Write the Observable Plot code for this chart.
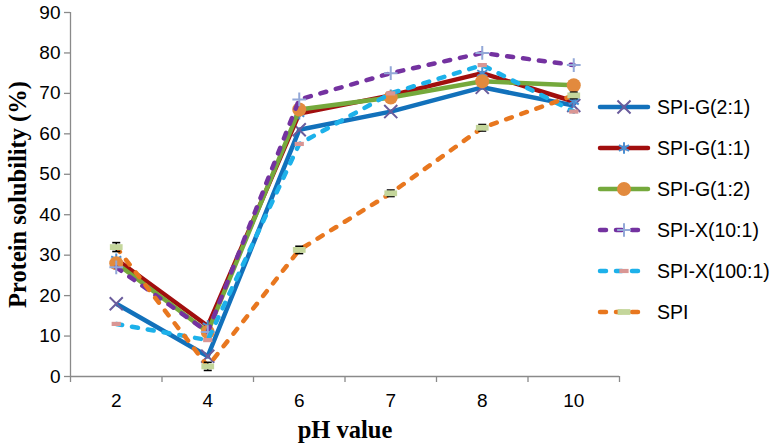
<!DOCTYPE html>
<html><head><meta charset="utf-8">
<script src="https://cdn.jsdelivr.net/npm/d3@7"></script>
<script src="https://cdn.jsdelivr.net/npm/@observablehq/plot@0.6"></script>
<style>
body{margin:0;background:#fff;}
#wrap{position:relative;width:773px;height:448px;overflow:hidden;}
#legend{position:absolute;left:596px;top:0;font-family:"Liberation Sans",Arial,sans-serif;font-size:19.5px;color:#000;}
.item{position:absolute;left:0;display:flex;align-items:center;white-space:nowrap;height:24px;}
.item svg{margin-right:5px;}
</style></head><body>
<div id="wrap"><div id="chart"></div><div id="legend"></div></div>
<script>
// ---- data ----
const phLabels = ["2", "4", "6", "7", "8", "10"];
const seriesNames = ["SPI-G(2:1)", "SPI-G(1:1)", "SPI-G(1:2)", "SPI-X(10:1)", "SPI-X(100:1)", "SPI"];
const spiG21  = [18, 5, 61, 65.5, 71.5, 67];
const spiG11  = [29, 12.5, 65, 69.5, 75, 68];
const spiG12  = [28, 11, 66, 69, 73, 72];
const spiX101 = [27, 11, 68.5, 75, 80, 77];
const spiX1001 = [13, 9, 57.5, 70, 77, 65.5];
const spi     = [32, 2.5, 31.3, 45.3, 61.5, 69.5];
const spiErr  = [1.1, 1, 0.9, 0.8, 0.8, 0.8];
const yTicks  = [0, 10, 20, 30, 40, 50, 60, 70, 80, 90];

// ---- custom symbols ----
const rectSym = {draw(ctx, size) { const r = Math.sqrt(size / Math.PI); ctx.rect(-r * 1.1, -r * 0.5, r * 2.2, r * 1.0); }};
const capSym = {draw(ctx, size) { const r = Math.sqrt(size / Math.PI); ctx.moveTo(-r, 0); ctx.lineTo(r, 0); }};

const styles = [
  {line: "#1271BB", dash: null, sym: "times", r: 6, mFill: "none", mStroke: "#6A5C9C"},
  {line: "#A10E0E", dash: null, sym: "asterisk", r: 5.5, mFill: "none", mStroke: "#4A8FD2"},
  {line: "#75A93C", dash: null, sym: "circle", r: 7, mFill: "#E28A3E", mStroke: "none"},
  {line: "#7432A0", dash: "6,10", sym: "plus", r: 4.5, mFill: "none", mStroke: "#93A8D8"},
  {line: "#1DB1EA", dash: "6,10", sym: rectSym, r: 4.2, mFill: "#D99694", mStroke: "none"},
  {line: "#E8771F", dash: "6,10", sym: rectSym, r: 5.8, mFill: "#C4D69B", mStroke: "none"}
];
const allValues = [spiG21, spiG11, spiG12, spiX101, spiX1001, spi];
const idx = phLabels.map((_, i) => i);
const bounds = d3.range(-0.5, phLabels.length, 1);

const marks = [
  Plot.ruleY([0], {stroke: "#8a8a8a", strokeWidth: 1.3}),
  Plot.ruleX([-0.5], {stroke: "#8a8a8a", strokeWidth: 1.3}),
  Plot.axisY({ticks: yTicks, tickSize: 6, tickFormat: () => "", stroke: "#8a8a8a", strokeWidth: 1.3, label: null}),
  Plot.axisY({ticks: yTicks, tickSize: 0, tickPadding: 10, fontSize: 19, label: null, fill: "#000"}),
  Plot.axisX({ticks: bounds, tickSize: 6, tickFormat: () => "", stroke: "#8a8a8a", strokeWidth: 1.3, label: null}),
  Plot.axisX({ticks: idx, tickSize: 0, tickPadding: 17, fontSize: 19, tickFormat: i => phLabels[i], label: null, fill: "#000"}),
  Plot.text(["pH value"], {frameAnchor: "bottom", dy: 61, fontSize: 24.5, fontWeight: "bold", fontFamily: "Liberation Serif, Times New Roman, serif"}),
  Plot.text(["Protein solubility (%)"], {frameAnchor: "left", textAnchor: "middle", dx: -52, rotate: -90, fontSize: 24.5, fontWeight: "bold", fontFamily: "Liberation Serif, Times New Roman, serif"})
];

allValues.forEach((vals, s) => {
  const st = styles[s];
  marks.push(Plot.line(idx, {x: i => i, y: i => vals[i], stroke: st.line, strokeWidth: 4.5,
    strokeDasharray: st.dash, strokeLinecap: st.dash ? "round" : "butt", strokeLinejoin: "round"}));
  if (s === 5) {
    marks.push(Plot.link(idx, {x1: i => i, x2: i => i, y1: i => vals[i] - spiErr[i], y2: i => vals[i] + spiErr[i], stroke: "#000", strokeWidth: 1.5}));
    marks.push(Plot.dot(idx, {x: i => i, y: i => vals[i] - spiErr[i], symbol: capSym, r: 4, stroke: "#000", strokeWidth: 1.6, fill: "none"}));
    marks.push(Plot.dot(idx, {x: i => i, y: i => vals[i] + spiErr[i], symbol: capSym, r: 4, stroke: "#000", strokeWidth: 1.6, fill: "none"}));
  }
  marks.push(Plot.dot(idx, {x: i => i, y: i => vals[i], symbol: st.sym, r: st.r, fill: st.mFill, stroke: st.mStroke, strokeWidth: 2}));
});

const chart = Plot.plot({
  width: 773, height: 448,
  marginLeft: 70, marginRight: 154, marginTop: 12, marginBottom: 72,
  style: {fontFamily: "Liberation Sans, Arial, sans-serif", background: "#fff", color: "#000"},
  x: {type: "linear", domain: [-0.5, phLabels.length - 0.5], axis: null},
  y: {domain: [0, 90], axis: null},
  marks
});
document.getElementById("chart").appendChild(chart);

// ---- legend ----
const legend = d3.select("#legend");
const rowTops = seriesNames.map((_, i) => 95 + i * 41);
seriesNames.forEach((name, s) => {
  const st = styles[s];
  const item = legend.append("div").attr("class", "item").style("top", rowTops[s] + "px");
  const svg = item.append("svg").attr("width", 56).attr("height", 24);
  svg.append("line").attr("x1", 4).attr("x2", 52).attr("y1", 12).attr("y2", 12)
    .attr("stroke", st.line).attr("stroke-width", 4.5)
    .attr("stroke-dasharray", st.dash).attr("stroke-linecap", "round");
  const symType = typeof st.sym === "string" ? {times: d3.symbolTimes, asterisk: d3.symbolAsterisk, circle: d3.symbolCircle, plus: d3.symbolPlus}[st.sym] : st.sym;
  svg.append("path").attr("transform", "translate(28,12)")
    .attr("d", d3.symbol(symType, Math.PI * st.r * st.r)())
    .attr("fill", st.mFill).attr("stroke", st.mStroke).attr("stroke-width", 2);
  item.append("span").text(name);
});
</script>
</body></html>
